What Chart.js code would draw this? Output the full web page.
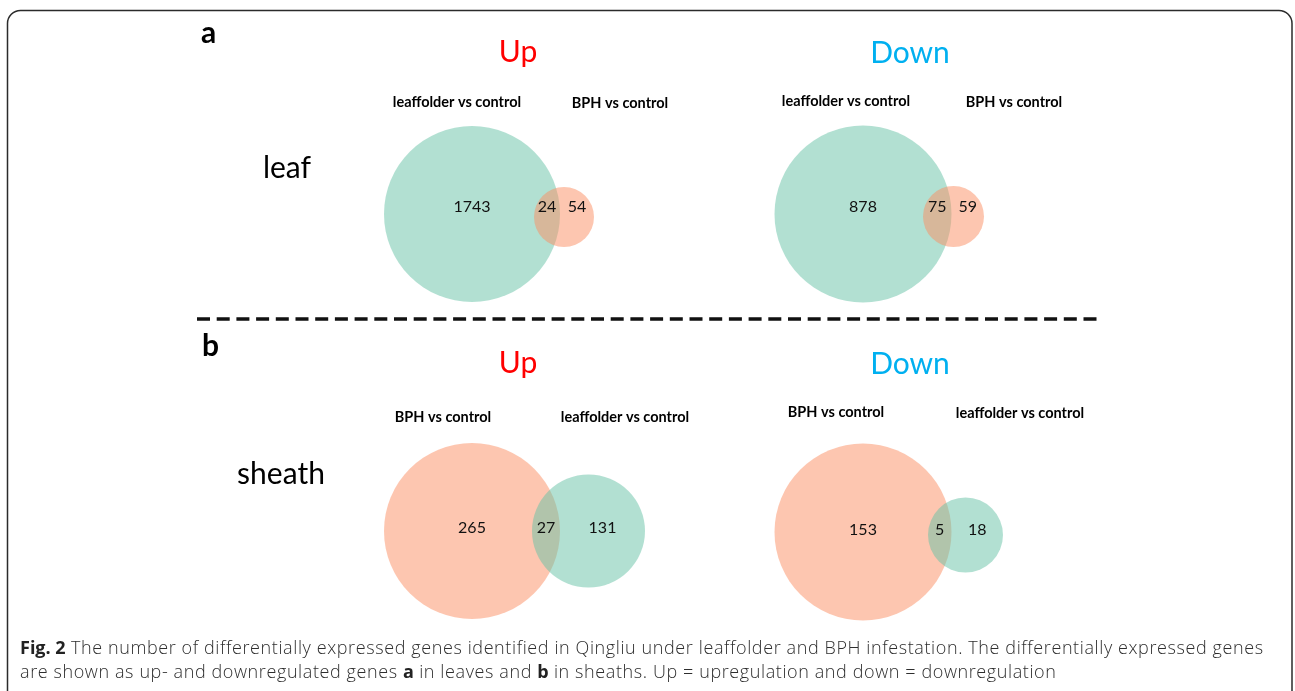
<!DOCTYPE html>
<html>
<head>
<meta charset="utf-8">
<script src="https://cdn.jsdelivr.net/npm/chart.js@4.4.1/dist/chart.umd.min.js"></script>
<style>
  html, body { margin: 0; padding: 0; background: #fff; }
  #wrap { position: relative; width: 1295px; height: 691px; overflow: hidden; }
  #venn { position: absolute; left: 0; top: 0; }
  #caption {
    position: absolute; left: 20px; top: 635px;
    font-family: "Open Sans", sans-serif; font-weight: 300; font-size: 18px; line-height: 24px;
    letter-spacing: 0.6px; color: #2e2e2e; white-space: nowrap;
  }
  #caption b { font-weight: 700; color: #222; letter-spacing: 0; }
</style>
</head>
<body>
<div id="wrap">
  <canvas id="venn" width="1295" height="691"></canvas>
  <div id="caption"><b>Fig. 2</b> The number of differentially expressed genes identified in Qingliu under leaffolder and BPH infestation. The differentially expressed genes<br>are shown as up- and downregulated genes <b>a</b> in leaves and <b>b</b> in sheaths. Up = upregulation and down = downregulation</div>
</div>
<script>
// DEG counts, one entry per panel: leaf Up, leaf Down, sheath Up, sheath Down
const rowLetters = ['a', 'b'];
const rowLabels = ['leaf', 'sheath'];
const directions = ['Up', 'Down', 'Up', 'Down'];
const firstSet = ['leaffolder vs control', 'leaffolder vs control', 'BPH vs control', 'BPH vs control'];
const secondSet = ['BPH vs control', 'BPH vs control', 'leaffolder vs control', 'leaffolder vs control'];
const onlyFirst = [1743, 878, 265, 153];
const shared = [24, 75, 27, 5];
const onlySecond = [54, 59, 131, 18];

// panel geometry (canvas units)
const panelX = [472, 863, 472, 863];     // centre of the large circle
const panelY = [214, 214, 531, 532];
const bigR = [88, 88.5, 88, 88.5];
const smallR = [30, 30.5, 56.5, 37.5];
const overlapW = [26, 28.5, 28, 23.5];
const smallDy = [3, 2.5, 0, 3];
const titleY = [62, 63, 373, 374];
const titleX = [518, 910, 518, 910];
const setLabelY = [[107, 108], [106, 107], [422, 422], [417, 418]];
const setLabelX = [[457, 620], [846, 1014], [443, 625], [836, 1020]];
const numberY = [212, 212, 533, 535];
const rowLabelPos = [[287, 178], [281, 484]];
const letterPos = [[201, 43], [202, 356]];

const setColor = {
  leaffolder: 'rgba(102, 194, 165, 0.5)',
  BPH: 'rgba(252, 141, 98, 0.5)'
};
const colorFor = name => setColor[name.split(' ')[0]];

function smallCx(i) {
  return panelX[i] + bigR[i] + smallR[i] - overlapW[i];
}

const bigPts = panelX.map((x, i) => ({ x: x, y: panelY[i], r: bigR[i] }));
const smallPts = panelX.map((x, i) => ({ x: smallCx(i), y: panelY[i] + smallDy[i], r: smallR[i] }));

const frame = {
  id: 'frame',
  beforeDraw(chart) {
    const c = chart.ctx;
    c.save();
    c.fillStyle = '#fff';
    c.fillRect(0, 0, chart.width, chart.height);
    c.strokeStyle = '#2b2b2b';
    c.lineWidth = 1.5;
    c.beginPath();
    c.roundRect(7.5, 10.5, 1284.5, 720, 13);
    c.stroke();

    // separator between the two rows
    c.strokeStyle = '#111';
    c.lineWidth = 3.3;
    c.setLineDash([13, 6.7]);
    c.beginPath();
    c.moveTo(197, 319);
    c.lineTo(1103, 319);
    c.stroke();
    c.restore();
  }
};

const labels = {
  id: 'labels',
  afterDatasetsDraw(chart) {
    const c = chart.ctx;
    const xs = chart.scales.x, ys = chart.scales.y;
    c.save();
    c.textBaseline = 'alphabetic';

    c.fillStyle = '#000';
    c.textAlign = 'left';
    c.font = 'bold 30px Lato';
    rowLetters.forEach((t, k) => c.fillText(t, letterPos[k][0], letterPos[k][1]));

    c.textAlign = 'center';
    c.font = '30px Lato';
    rowLabels.forEach((t, k) => c.fillText(t, rowLabelPos[k][0], rowLabelPos[k][1]));

    panelX.forEach((px, i) => {
      c.font = '30px Lato';
      c.fillStyle = directions[i] === 'Up' ? '#ff0000' : '#00b0f0';
      c.fillText(directions[i], titleX[i], titleY[i]);

      c.fillStyle = '#000';
      c.font = 'bold 14.5px Lato';
      c.fillText(firstSet[i], setLabelX[i][0], setLabelY[i][0]);
      c.fillText(secondSet[i], setLabelX[i][1], setLabelY[i][1]);

      const bigRight = px + bigR[i];
      const smallLeft = smallCx(i) - smallR[i];
      const smallRight = smallCx(i) + smallR[i];
      const y = ys.getPixelForValue(numberY[i]);
      c.font = '16px Lato';
      c.fillStyle = '#111';
      c.fillText(String(onlyFirst[i]), xs.getPixelForValue(px), y);
      c.fillText(String(shared[i]), xs.getPixelForValue((smallLeft + bigRight) / 2), y);
      c.fillText(String(onlySecond[i]), xs.getPixelForValue((bigRight + smallRight) / 2), y);
    });
    c.restore();
  }
};

new Chart(document.getElementById('venn').getContext('2d'), {
  type: 'bubble',
  data: {
    datasets: [
      {
        label: 'second set',
        order: 1,
        data: smallPts,
        backgroundColor: secondSet.map(colorFor),
        borderWidth: 0
      },
      {
        label: 'first set',
        order: 2,
        data: bigPts,
        backgroundColor: firstSet.map(colorFor),
        borderWidth: 0
      }
    ]
  },
  options: {
    responsive: false,
    animation: false,
    events: [],
    layout: { padding: 0, autoPadding: false },
    plugins: {
      legend: { display: false },
      tooltip: { enabled: false }
    },
    scales: {
      x: { type: 'linear', min: 0, max: 1295, display: false },
      y: { type: 'linear', min: 0, max: 691, reverse: true, display: false }
    }
  },
  plugins: [frame, labels]
});
</script>
</body>
</html>
